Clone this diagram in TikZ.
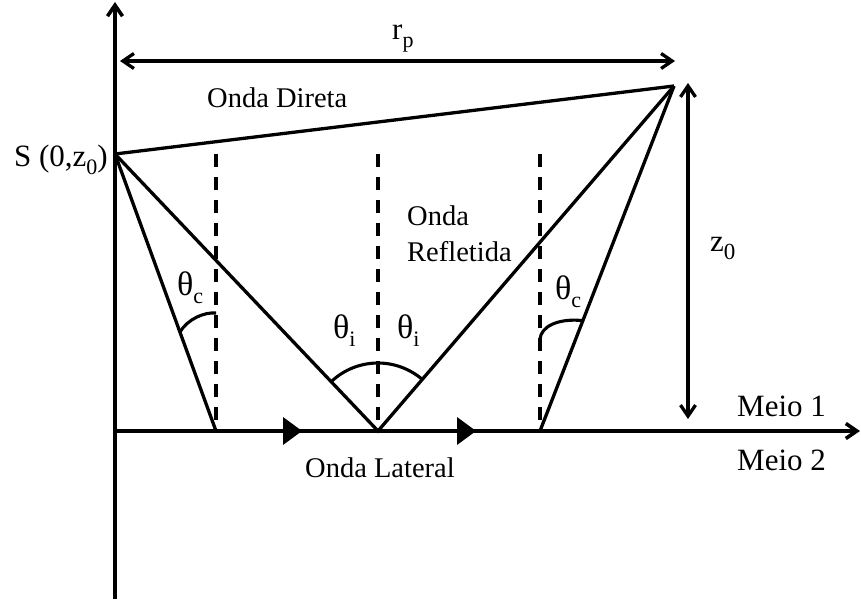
\documentclass[tikz,border=0pt]{standalone}
\usepackage{fontspec}
\setmainfont{Liberation Serif}
\usetikzlibrary{arrows.meta,calc}
\newcommand{\lsub}[2][22]{\raisebox{-8pt}{\fontsize{#1}{#1}\selectfont #2}}
\begin{document}
\begin{tikzpicture}[x=1pt,y=-1pt,
  axis/.style={line width=3.6pt},
  ln/.style={line width=3.3pt},
  dsh/.style={line width=3.5pt, dash pattern=on 13pt off 10pt},
  arcl/.style={line width=3.1pt},
  barb/.style={-{Straight Barb[length=11pt,width=15pt]}},
  dbarb/.style={{Straight Barb[length=11pt,width=15pt]}-{Straight Barb[length=11pt,width=15pt]}},
  tri/.style={fill=black},
  lbl/.style={inner sep=0pt, font=\fontsize{28.5}{34}\selectfont},
  big/.style={inner sep=0pt, font=\fontsize{31}{37}\selectfont},
  th/.style={inner sep=0pt, font=\fontsize{34}{40}\selectfont},
]
\useasboundingbox (0,0) rectangle (861,601);
% key points
\coordinate (top) at (115,2);
\coordinate (bot) at (115,599);
\coordinate (O) at (115,431);
\coordinate (E) at (860,431);
\coordinate (S) at (115,154);
\coordinate (R) at (674,86);
\coordinate (A) at (216,431);
\coordinate (F) at (378,431);
\coordinate (B) at (540,431);
\coordinate (dA) at (216,154);
\coordinate (dF) at (378,154);
\coordinate (dB) at (540,154);
\coordinate (rpL) at (120,61);
\coordinate (rpR) at (675,61);
\coordinate (zT) at (688,83);
\coordinate (zB) at (688,419);
% axes
\draw[axis,barb] (bot) -- (top);
\draw[axis,barb] (O) -- (E);
% dimension arrows
\draw[ln,dbarb] (rpL) -- (rpR);
\draw[ln,dbarb] (zT) -- (zB);
% dashed normals
\draw[dsh] (dA) -- (A);
\draw[dsh] (dF) -- (F);
\draw[dsh] (dB) -- (B);
% rays
\draw[ln] (S) -- (R);
\draw[ln] (S) -- (A);
\draw[ln] (S) -- (F) -- (R);
\draw[ln] (B) -- (R);
% lateral wave arrowheads
\fill[tri] (283,417) -- (302,431) -- (283,445) -- cycle;
\fill[tri] (457,417) -- (476,431) -- (457,445) -- cycle;
% angle arcs
\coordinate (a1) at (216,313);
\coordinate (a2) at ($(S)!0.6426!(A)$);
\draw[arcl] (a1) .. controls (204,312) and (188,319) .. (a2);
\coordinate (i0) at (378,363);
\coordinate (i1) at ($(F)!68pt!(S)$);
\coordinate (i2) at ($(F)!68pt!(R)$);
\draw[arcl] (i0) .. controls (360.8,363) and (344.0,369.5) .. (i1);
\draw[arcl] (i0) .. controls (394.3,363) and (409.9,368.9) .. (i2);
\coordinate (b1) at (540,339);
\coordinate (b2) at ($(B)!0.32!(R)$);
\draw[arcl] (b1) .. controls (541,327) and (557,318) .. (b2);
% labels
\node[big,anchor=base east] (lS) at (108,167) {S (0,z\lsub{0})};
\node[big,anchor=base west] (lrp) at (392,40) {r\lsub[22]{p}};
\node[big,anchor=base west] (lz) at (710,252) {z\lsub[23]{0}};
\node[lbl,anchor=base west] (lDir) at (207,108) {Onda Direta};
\node[lbl,anchor=base west] (lRef1) at (407,226) {Onda};
\node[lbl,anchor=base west] (lRef2) at (407,262) {Refletida};
\node[lbl,anchor=base west] (lLat) at (305,477) {Onda Lateral};
\node[big,anchor=base west] (lM1) at (737,416) {Meio 1};
\node[big,anchor=base west] (lM2) at (737,470) {Meio 2};
\node[th,anchor=base west] (tc1) at (177,295) {θ\lsub{c}};
\node[th,anchor=base west] (ti1) at (333,338) {θ\lsub{i}};
\node[th,anchor=base west] (ti2) at (397,338) {θ\lsub{i}};
\node[th,anchor=base west] (tc2) at (555,300) {θ\lsub{c}};
\end{tikzpicture}
\end{document}
